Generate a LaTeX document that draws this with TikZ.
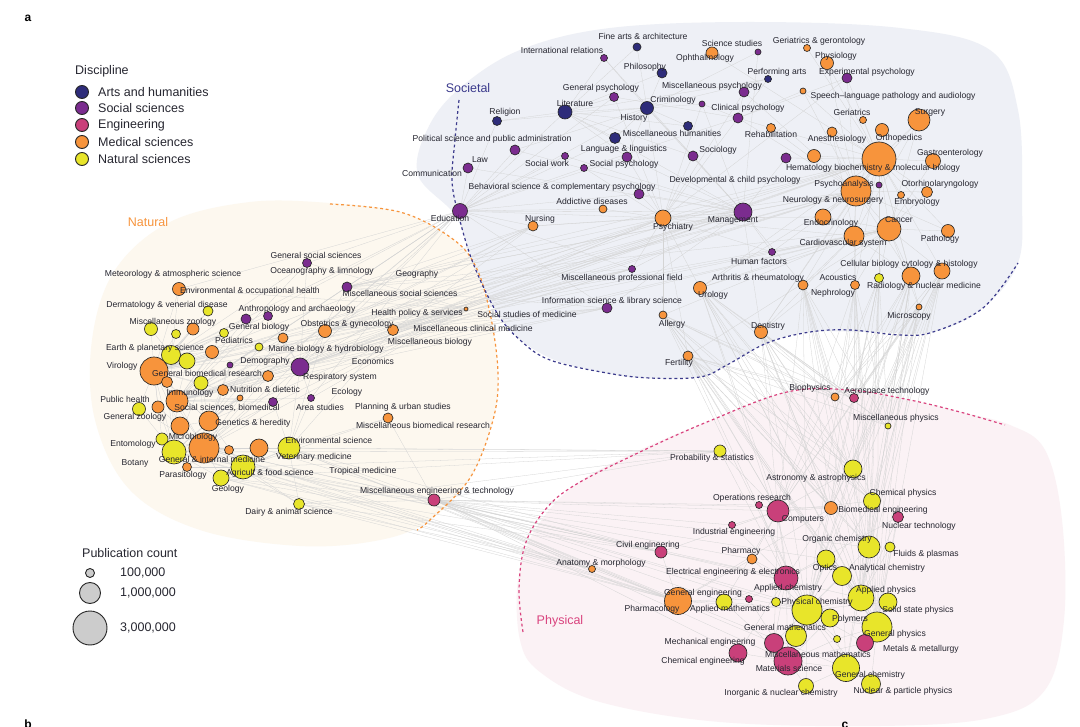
\documentclass[tikz,border=0pt]{standalone}
\usepackage{fontspec}
\setmainfont{Liberation Sans}
\pgfdeclarelayer{bg}\pgfdeclarelayer{edges}\pgfdeclarelayer{top}
\pgfsetlayers{bg,edges,main,top}
\definecolor{arts}{HTML}{2E2C7A}
\definecolor{soc}{HTML}{7B2C8F}
\definecolor{eng}{HTML}{C9407A}
\definecolor{med}{HTML}{F7943C}
\definecolor{nat}{HTML}{E8E52A}
\definecolor{labelc}{HTML}{262630}
\definecolor{socfill}{HTML}{EEF0F6}
\definecolor{natfill}{HTML}{FDF8EF}
\definecolor{phyfill}{HTML}{FBF2F5}
\definecolor{socline}{HTML}{3B3A8C}
\definecolor{phyline}{HTML}{D9437E}
\tikzset{
 dot/.style={circle,draw=black!85,line width=0.65pt,inner sep=0pt,outer sep=0pt},
 lbl/.style={font=\fontsize{8.6}{10}\selectfont,text=labelc,inner sep=0pt,text height=6.3pt,text depth=1.8pt},
 edge/.style={draw=black!17,line width=0.28pt},
 big/.style={font=\fontsize{12.5}{14}\selectfont,text=labelc,inner sep=0pt},
 region/.style={font=\fontsize{12.5}{14}\selectfont,inner sep=0pt},
 legdot/.style={circle,draw=black!85,line width=0.9pt,inner sep=0pt},
 bord/.style={line width=1.2pt,dash pattern=on 2.8pt off 2.8pt}
}
\newcommand\ND[8]{%
 \node[dot,fill=#5,minimum size=#4*2pt] (#1) at (#2,#3) {};
 \begin{pgfonlayer}{top}\node[lbl] (#1-t) at (#6,#7) {#8};\end{pgfonlayer}}
\newcommand\NU[5]{\node[dot,fill=#5,minimum size=#4*2pt] (#1) at (#2,#3) {};}
\newcommand\LB[4]{\begin{pgfonlayer}{top}\node[lbl] (#1) at (#2,#3) {#4};\end{pgfonlayer}}
\newcommand\E[2]{\foreach \x in {#2}{\draw[edge] (#1) -- (\x);}}
\begin{document}
\begin{tikzpicture}[x=1pt,y=-1pt]
\useasboundingbox (0,0) rectangle (1080,727);
\begin{pgfonlayer}{bg}
\fill[white] (0,0) rectangle (1080,727);
\fill[natfill] plot[smooth cycle,tension=0.6] coordinates {(330,203) (400,212) (450,237) (475,265) (490,313) (498,373) (493,420) (470,478) (430,520) (380,540) (300,546) (200,530) (130,490) (95,420) (92,340) (115,270) (170,222) (250,202)};
\fill[socfill] plot[smooth cycle,tension=0.6] coordinates {(418,175) (428,128) (460,88) (520,50) (610,28) (750,22) (900,28) (990,50) (1018,110) (1022,200) (1018,263) (983,308) (933,332) (870,332) (810,332) (767,343) (727,365) (700,377) (640,378) (590,370) (550,358) (515,335) (490,300) (470,255) (455,215)};
\fill[phyfill] plot[smooth cycle,tension=0.6] coordinates {(520,640) (518,580) (535,530) (575,485) (640,450) (707,422) (787,392) (850,390) (910,400) (960,412) (1010,425) (1045,450) (1062,520) (1064,620) (1045,690) (990,718) (880,726) (720,722) (600,702) (540,672)};
\end{pgfonlayer}

% ---------- Societal ----------
\ND{far}{637}{47}{4}{arts}{643}{37}{Fine arts \& architecture}
\ND{intrel}{604}{58}{3.5}{soc}{562}{51}{International relations}
\ND{phil}{662}{73}{5}{arts}{645}{67}{Philosophy}
\ND{ophth}{712}{53}{6}{med}{705}{58}{Ophthalmology}
\ND{scist}{758}{52}{3}{soc}{732}{44}{Science studies}
\ND{gerger}{807}{48}{3.5}{med}{819}{41}{Geriatrics \& gerontology}
\ND{physio}{827}{63}{6.5}{med}{836}{56}{Physiology}
\ND{perf}{768}{79}{3.5}{arts}{777}{72}{Performing arts}
\ND{exppsy}{847}{78}{5}{soc}{867}{72}{Experimental psychology}
\ND{genpsy}{614}{97}{4.5}{soc}{601}{88}{General psychology}
\ND{miscpsy}{744}{92}{5}{soc}{712}{86}{Miscellaneous psychology}
\ND{speech}{803}{91}{3}{med}{893}{96}{Speech–language pathology and audiology}
\ND{lit}{565}{112}{7}{arts}{575}{104}{Literature}
\ND{hist}{647}{108}{6.5}{arts}{634}{118}{History}
\ND{crim}{702}{104}{3}{soc}{673}{100}{Criminology}
\ND{clinpsy}{738}{118}{5}{soc}{748}{108}{Clinical psychology}
\ND{relig}{497}{121}{4.5}{arts}{505}{112}{Religion}
\ND{geri}{863}{120}{3.5}{med}{852}{113}{Geriatrics}
\ND{surg}{919}{120}{11}{med}{930}{112}{Surgery}
\NU{uh1}{688}{126}{4.5}{arts}
\ND{mischum}{615}{138}{5.5}{arts}{672}{134}{Miscellaneous humanities}
\ND{rehab}{771}{128}{4.5}{med}{771}{135}{Rehabilitation}
\ND{anest}{832}{132}{5}{med}{837}{139}{Anesthesiology}
\ND{ortho}{882}{130}{6.5}{med}{899}{138}{Orthopedics}
\ND{polsci}{515}{150}{5}{soc}{492}{139}{Political science and public administration}
\ND{lang}{627}{157}{5}{soc}{624}{149}{Language \& linguistics}
\ND{socio}{693}{156}{5}{soc}{718}{150}{Sociology}
\NU{us1}{786}{158}{5}{soc}
\NU{um1}{814}{156}{6.5}{med}
\ND{hema}{879}{159}{17}{med}{873}{168}{Hematology biochemistry \& molecular biology}
\ND{gastro}{933}{161}{7.5}{med}{950}{153}{Gastroenterology}
\ND{socwork}{565}{156}{3.5}{soc}{547}{164}{Social work}
\ND{socpsy}{584}{168}{3.5}{soc}{624}{164}{Social psychology}
\ND{law}{468}{168}{5}{soc}{480}{160}{Law}
\LB{comm}{432}{174}{Communication}
\ND{behav}{639}{194}{5}{soc}{562}{187}{Behavioral science \& complementary psychology}
\LB{devpsy}{735}{180}{Developmental \& child psychology}
\ND{neuro}{856}{191}{15}{med}{833}{200}{Neurology \& neurosurgery}
\ND{psyan}{879}{185}{3}{soc}{844}{184}{Psychoanalysis}
\ND{otor}{927}{192}{5.5}{med}{940}{184}{Otorhinolaryngology}
\ND{embr}{901}{195}{3.5}{med}{917}{202}{Embryology}
\ND{addic}{603}{209}{4}{med}{592}{202}{Addictive diseases}
\ND{educ}{460}{211}{7.5}{soc}{450}{219}{Education}
\ND{nurs}{533}{226}{5}{med}{540}{219}{Nursing}
\ND{psych}{663}{218}{8}{med}{673}{227}{Psychiatry}
\ND{manag}{743}{212}{9}{soc}{733}{220}{Management}
\ND{endo}{823}{217}{8}{med}{831}{223}{Endocrinology}
\ND{cancer}{889}{229}{12}{med}{899}{220}{Cancer}
\ND{cardio}{854}{236}{10}{med}{843}{243}{Cardiovascular system}
\ND{patho}{948}{231}{6.5}{med}{940}{239}{Pathology}
\ND{humfac}{772}{252}{3.5}{soc}{759}{262}{Human factors}
\ND{cellb}{942}{271}{8}{med}{909}{264}{Cellular biology cytology \& histology}
\ND{radio}{911}{276}{9}{med}{924}{286}{Radiology \& nuclear medicine}
\ND{acou}{879}{278}{4.5}{nat}{838}{278}{Acoustics}
\ND{nephro}{855}{285}{4.5}{med}{833}{293}{Nephrology}
\ND{arth}{803}{285}{5}{med}{758}{278}{Arthritis \& rheumatology}
\ND{mpf}{632}{269}{3.5}{soc}{622}{278}{Miscellaneous professional field}
\ND{uro}{700}{288}{6.5}{med}{713}{295}{Urology}
\ND{infsci}{607}{308}{5}{soc}{612}{301}{Information science \& library science}
\ND{allergy}{663}{315}{4}{med}{672}{324}{Allergy}
\LB{ssm}{527}{315}{Social studies of medicine}
\ND{micros}{919}{307}{3}{med}{909}{316}{Microscopy}
\ND{dent}{761}{332}{6.5}{med}{768}{326}{Dentistry}
\ND{fert}{688}{356}{5}{med}{679}{363}{Fertility}

% ---------- Natural ----------
\ND{gss}{307}{263}{4.5}{soc}{316}{256}{General social sciences}
\LB{ocean}{322}{271}{Oceanography \& limnology}
\LB{geog}{417}{274}{Geography}
\LB{met}{173}{274}{Meteorology \& atmospheric science}
\ND{envocc}{179}{289}{6.5}{med}{250}{291}{Environmental \& occupational health}
\ND{miscsoc}{347}{287}{5}{soc}{400}{294}{Miscellaneous social sciences}
\ND{derm}{208}{311}{5}{nat}{167}{305}{Dermatology \& venerial disease}
\NU{anth1}{246}{319}{5}{soc}
\ND{anth2}{268}{316}{4.5}{soc}{297}{309}{Anthropology and archaeology}
\ND{hps}{466}{309}{2}{med}{417}{313}{Health policy \& services}
\LB{miscclin}{473}{329}{Miscellaneous clinical medicine}
\ND{obst}{325}{331}{6.5}{med}{347}{324}{Obstetrics \& gynecology}
\ND{miscbio}{393}{330}{5.5}{med}{430}{342}{Miscellaneous biology}
\ND{mzoo}{151}{329}{6.5}{nat}{173}{322}{Miscellaneous zoology}
\NU{y2}{176}{334}{4.5}{nat}
\NU{o1}{193}{329}{6}{med}
\ND{genbio}{224}{333}{4.5}{nat}{259}{327}{General biology}
\ND{pedi}{283}{338}{5}{med}{234}{341}{Pediatrics}
\ND{marine}{259}{347}{4}{nat}{326}{349}{Marine biology \& hydrobiology}
\ND{earth}{171}{355}{9.5}{nat}{155}{348}{Earth \& planetary science}
\NU{y3}{187}{361}{8}{nat}
\NU{o2}{212}{352}{6.5}{med}
\LB{econ}{373}{362}{Economics}
\ND{viro}{154}{371}{14}{med}{122}{366}{Virology}
\ND{demo}{230}{365}{3}{soc}{265}{361}{Demography}
\ND{resp}{300}{367}{9}{soc}{340}{377}{Respiratory system}
\ND{genbm}{268}{376}{5.5}{med}{207}{374}{General biomedical research}
\NU{o3}{167}{382}{5.5}{med}
\NU{y4}{201}{383}{7}{nat}
\LB{immu}{190}{393}{Immunology}
\ND{nutr}{223}{390}{5.5}{med}{265}{390}{Nutrition \& dietetic}
\LB{ecol}{347}{392}{Ecology}
\ND{pubh}{139}{409}{6.5}{nat}{125}{400}{Public health}
\NU{o4}{158}{407}{6}{med}
\ND{socbm}{177}{401}{11}{med}{227}{408}{Social sciences, biomedical}
\NU{p1}{273}{402}{4.5}{soc}
\NU{o5}{240}{398}{3}{med}
\ND{area}{311}{398}{3.5}{soc}{320}{408}{Area studies}
\ND{plan}{388}{418}{5}{med}{403}{407}{Planning \& urban studies}
\LB{miscbm}{423}{426}{Miscellaneous biomedical research}
\LB{genzoo}{135}{417}{General zoology}
\NU{o6}{180}{426}{9}{med}
\ND{genet}{209}{421}{10}{med}{253}{423}{Genetics \& heredity}
\ND{entom}{162}{439}{6}{nat}{133}{444}{Entomology}
\ND{genint}{174}{452}{12}{nat}{212}{460}{General \& internal medicine}
\ND{microb}{204}{448}{15}{med}{193}{437}{Microbiology}
\NU{o7}{259}{448}{9}{med}
\NU{o8}{229}{450}{4.5}{med}
\ND{envsci}{289}{448}{11}{nat}{329}{441}{Environmental science}
\LB{vet}{314}{457}{Veterinary medicine}
\LB{botany}{135}{463}{Botany}
\ND{parasit}{187}{467}{4.5}{med}{183}{475}{Parasitology}
\ND{agri}{243}{467}{12}{nat}{270}{473}{Agricult \& food science}
\LB{trop}{363}{471}{Tropical medicine}
\ND{geol}{221}{478}{8}{nat}{228}{489}{Geology}
\ND{dairy}{299}{504}{5.5}{nat}{289}{512}{Dairy \& animal science}
\ND{miscet}{434}{500}{6}{eng}{437}{491}{Miscellaneous engineering \& technology}

% ---------- Physical ----------
\ND{bioph}{835}{397}{4}{med}{810}{388}{Biophysics}
\ND{aero}{854}{398}{4.5}{eng}{887}{391}{Aerospace technology}
\ND{mphys}{888}{426}{3}{nat}{896}{418}{Miscellaneous physics}
\ND{prob}{720}{451}{6}{nat}{712}{458}{Probability \& statistics}
\ND{astro}{853}{469}{9}{nat}{816}{478}{Astronomy \& astrophysics}
\ND{opres}{759}{505}{3.5}{eng}{752}{498}{Operations research}
\ND{comp}{778}{511}{11}{eng}{803}{519}{Computers}
\ND{biomed}{831}{508}{6.5}{med}{883}{510}{Biomedical engineering}
\ND{chemph}{872}{501}{8.5}{nat}{903}{493}{Chemical physics}
\ND{nuctech}{898}{517}{5.5}{eng}{919}{526}{Nuclear technology}
\ND{indeng}{732}{525}{3.5}{eng}{734}{532}{Industrial engineering}
\ND{civil}{661}{552}{6}{eng}{648}{545}{Civil engineering}
\ND{orgch}{869}{547}{11}{nat}{837}{539}{Organic chemistry}
\ND{fluids}{890}{547}{5}{nat}{926}{554}{Fluids \& plasmas}
\ND{pharmacy}{752}{559}{5}{med}{741}{551}{Pharmacy}
\ND{anat}{592}{569}{3.5}{med}{601}{563}{Anatomy \& morphology}
\ND{elec}{786}{578}{12}{eng}{733}{572}{Electrical engineering \& electronics}
\ND{optics}{826}{559}{9}{nat}{825}{568}{Optics}
\ND{anach}{842}{576}{9.5}{nat}{887}{568}{Analytical chemistry}
\LB{appch}{788}{588}{Applied chemistry}
\ND{pharmacol}{678}{601}{13.5}{med}{652}{609}{Pharmacology}
\ND{geneng}{749}{599}{3.5}{eng}{703}{593}{General engineering}
\ND{appmath}{724}{602}{8}{nat}{730}{609}{Applied mathematics}
\NU{y5}{776}{602}{4.5}{nat}
\ND{physch}{807}{610}{15}{nat}{817}{602}{Physical chemistry}
\ND{appph}{861}{598}{13}{nat}{886}{590}{Applied physics}
\ND{solid}{888}{602}{9}{nat}{918}{610}{Solid state physics}
\ND{polym}{830}{618}{9}{nat}{850}{619}{Polymers}
\ND{genph}{877}{627}{15}{nat}{895}{634}{General physics}
\ND{genmath}{796}{636}{10.5}{nat}{785}{628}{General mathematics}
\ND{mecheng}{774}{643}{9.5}{eng}{710}{642}{Mechanical engineering}
\ND{cheng}{738}{653}{9}{eng}{703}{661}{Chemical engineering}
\NU{y6}{837}{639}{3.5}{nat}
\ND{metals}{865}{643}{8.5}{eng}{921}{649}{Metals \& metallurgy}
\LB{miscmath}{818}{655}{Miscellaneous mathematics}
\ND{matsci}{788}{661}{14}{eng}{789}{669}{Materials science}
\ND{genchem}{846}{668}{13.5}{nat}{870}{675}{General chemistry}
\ND{nucpart}{871}{684}{9.5}{nat}{903}{691}{Nuclear \& particle physics}
\ND{inorg}{806}{686}{7.5}{nat}{781}{693}{Inorganic \& nuclear chemistry}

% ---------- edges ----------
\begin{pgfonlayer}{edges}
\E{hema}{surg,ortho,gastro,neuro,cancer,cardio,endo,patho,otor,embr,geri,anest,rehab,physio,radio,cellb,nephro,arth,psyan,um1,us1,speech,micros,acou,exppsy,dent,uro,psych,gerger,ophth}
\E{neuro}{cancer,cardio,endo,psych,surg,ortho,anest,rehab,clinpsy,miscpsy,exppsy,otor,radio,patho,uro,nephro,humfac,physio,speech,manag,dent}
\E{psych}{clinpsy,miscpsy,genpsy,socpsy,addic,nurs,behav,crim,socio,educ,manag,fert,allergy,mpf,uro,humfac,exppsy,hist,lang,cardio,endo}
\E{manag}{socio,law,polsci,educ,lang,infsci,mpf,humfac,hist,lit,crim,intrel,scist,behav,socwork,nurs,us1,arth,dent}
\E{educ}{law,polsci,lit,relig,lang,socwork,nurs,socpsy,behav,genpsy,mischum,infsci,hist,addic,mpf}
\E{lit}{phil,far,relig,hist,lang,mischum,uh1,intrel,perf,genpsy,socio}
\E{hist}{phil,far,relig,mischum,uh1,crim,intrel,perf,socio,scist,lang,polsci}
\E{cancer}{patho,cellb,radio,gastro,surg,endo,cardio,embr,micros,otor,nephro,acou,dent,fert,uro}
\E{cardio}{endo,nephro,arth,surg,anest,radio,dent,uro,humfac,allergy}
\E{clinpsy}{miscpsy,genpsy,exppsy,socpsy,crim,speech,rehab,perf}
\E{viro}{mzoo,y2,o1,earth,y3,o2,o3,y4,pubh,o4,socbm,genet,o6,entom,microb,genint,derm,envocc,genbio,nutr,genbm}
\E{microb}{genint,genet,o6,entom,parasit,agri,geol,o7,o8,envsci,socbm,pubh,o4,y4,nutr,genbm,p1,o5,demo,resp,dairy}
\E{genint}{entom,parasit,agri,geol,o8,o7,genet,o6,socbm,pubh,o4,o3,y4,earth}
\E{socbm}{o5,p1,nutr,genbm,demo,resp,area,genbio,pedi,marine,obst,anth1,anth2,o2,y3,gss,miscsoc}
\E{agri}{geol,dairy,envsci,o7,o8,parasit,genet,plan}
\E{envsci}{o7,geol,plan,area,resp,p1,miscbio,obst,dairy}
\E{earth}{y2,o1,mzoo,y3,o2,derm,envocc,genbio,anth1,anth2,gss}
\E{genet}{o6,y4,o3,o5,nutr,genbm,demo,pedi,marine}
\E{resp}{demo,p1,area,obst,miscbio,miscsoc,gss,anth2,pedi,marine,genbm}
\E{physch}{y5,polym,genmath,genchem,appph,solid,optics,anach,orgch,chemph,metals,y6,inorg,nucpart,matsci,mecheng,elec,appmath,geneng,pharmacy,pharmacol,biomed,astro}
\E{elec}{comp,opres,indeng,civil,geneng,appmath,mecheng,cheng,matsci,pharmacy,optics,y5,genmath,biomed,nuctech,prob}
\E{comp}{opres,indeng,prob,appmath,genmath,civil,mecheng,biomed,astro,chemph,pharmacy}
\E{genph}{appph,solid,metals,nucpart,genchem,polym,y6,astro,mphys,fluids,chemph,nuctech,optics,orgch,anach}
\E{matsci}{mecheng,cheng,genmath,inorg,genchem,metals,polym,y6,appmath,geneng}
\E{genchem}{inorg,nucpart,metals,polym,orgch,anach,chemph}
\E{appph}{solid,optics,fluids,orgch,anach,chemph,nuctech,astro}
\E{pharmacol}{anat,pharmacy,civil,appmath,geneng,biomed}
\E{miscet}{pharmacol,anat,civil,comp,elec,matsci,physch,appmath,mecheng,cheng,geneng,prob,genph,genchem,orgch,appph,indeng,opres,pharmacy,optics,biomed,agri,envsci,geol,dairy,microb,genint,o7,plan}
\foreach \a in {educ,hps}{\E{\a}{viro,socbm,genint,microb,earth,envocc,resp,genet,gss,miscsoc,demo,area}}
\foreach \a in {viro,socbm,resp,miscsoc,obst,miscbio}{\E{\a}{psych,hema,neuro,cancer,manag,nurs,mpf,infsci}}
\foreach \a in {acou,radio,cellb,micros,nephro,dent,uro,arth,fert,allergy}{\E{\a}{bioph,aero,mphys,astro,chemph,biomed,comp,physch,appph,genph,orgch}}
\foreach \a in {genint,agri,envsci,microb,geol,dairy}{\E{\a}{prob,pharmacol,anat,civil}}
% dashed region borders
\draw[med,bord] plot[smooth,tension=0.6] coordinates {(330,204) (400,212) (450,237) (475,265) (490,313) (498,373) (493,420) (470,478) (430,520) (417,530)};
\draw[socline,bord] plot[smooth,tension=0.6] coordinates {(459,100) (455,140) (452,180) (458,213) (473,263) (497,313) (520,340) (550,360) (607,373) (650,378) (700,377) (727,365) (767,343) (810,332) (850,330) (900,335) (933,332) (983,308) (1018,263)};
\draw[phyline,bord] plot[smooth,tension=0.6] coordinates {(523,632) (519,590) (525,545) (545,510) (575,485) (640,452) (707,422) (787,392) (850,390) (910,400) (960,412) (1005,425)};
\end{pgfonlayer}

% ---------- region names and panel letters ----------
\node[region,text=socline] (rsoc) at (468,88) {Societal};
\node[region,text=med] (rnat) at (148,222) {Natural};
\node[region,text=phyline] (rphy) at (560,621) {Physical};
\node[font=\fontsize{12}{14}\selectfont\bfseries,inner sep=0pt] (pa) at (28,18) {a};
\node[font=\fontsize{12}{14}\selectfont\bfseries,inner sep=0pt,anchor=base] (pb) at (28,728.5) {b};
\node[font=\fontsize{12}{14}\selectfont\bfseries,inner sep=0pt,anchor=base] (pcc) at (845,728.5) {c};

% ---------- legends ----------
\node[big,anchor=west] (disc) at (75,71) {Discipline};
\foreach \c/\t/\y [count=\i] in {arts/Arts and humanities/92,soc/Social sciences/108,eng/Engineering/125,med/Medical sciences/142,nat/Natural sciences/159}{
 \node[legdot,fill=\c,minimum size=13pt] (ld\i) at (82,\y) {};
 \node[big,anchor=west] (lt\i) at (98,\y) {\t};
}
\node[big,anchor=west] (pubc) at (82,553) {Publication count};
\node[legdot,fill=black!20,minimum size=9pt] (pc1) at (90,573) {};
\node[legdot,fill=black!20,minimum size=21pt] (pc2) at (90,593) {};
\node[legdot,fill=black!20,minimum size=34pt] (pc3) at (90,628) {};
\node[big,anchor=west] (pt1) at (120,573) {100,000};
\node[big,anchor=west] (pt2) at (120,593) {1,000,000};
\node[big,anchor=west] (pt3) at (120,628) {3,000,000};
\end{tikzpicture}
\end{document}
